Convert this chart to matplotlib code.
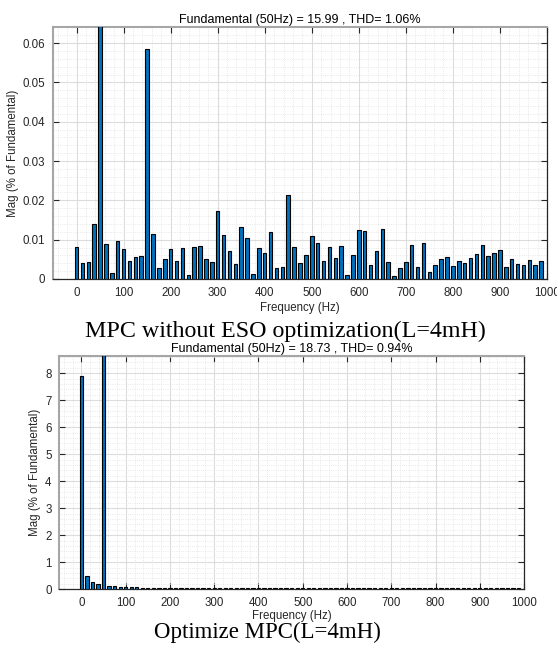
"""FFT harmonic spectra of the grid current, MPC vs optimised MPC
"""
import numpy as np
import matplotlib
matplotlib.use('Agg')
import matplotlib.pyplot as plt
from matplotlib.ticker import MultipleLocator

# harmonic bins, 12.5 Hz resolution (index 4 = 50 Hz fundamental)
freqStep = 12.5
fundamental = 100.0   # % of fundamental, clipped by the axis limits

magMpc = [0.0082, 0.0040, 0.0042, 0.0140, fundamental, 0.0090, 0.0014, 0.0097,
          0.0076, 0.0046, 0.0055, 0.0058, 0.0584, 0.0114, 0.0027, 0.0051,
          0.0075, 0.0047, 0.0078, 0.0011, 0.0081, 0.0084, 0.0050, 0.0043,
          0.0173, 0.0112, 0.0070, 0.0038, 0.0131, 0.0105, 0.0013, 0.0079,
          0.0065, 0.0120, 0.0028, 0.0031, 0.0214, 0.0082, 0.0041, 0.0061,
          0.0109, 0.0091, 0.0046, 0.0082, 0.0053, 0.0084, 0.0010, 0.0061,
          0.0125, 0.0121, 0.0036, 0.0071, 0.0127, 0.0042, 0.0007, 0.0029,
          0.0043, 0.0086, 0.0031, 0.0091, 0.0019, 0.0035, 0.0052, 0.0057,
          0.0034, 0.0047, 0.0040, 0.0054, 0.0064, 0.0086, 0.0059, 0.0066,
          0.0073, 0.0030, 0.0051, 0.0038, 0.0036, 0.0048, 0.0036, 0.0045]

magOpt = [7.88, 0.50, 0.27, 0.18, fundamental, 0.12, 0.11, 0.10,
          0.08, 0.07, 0.07, 0.06, 0.06, 0.05, 0.05, 0.04,
          0.04, 0.04, 0.04, 0.04, 0.04, 0.04, 0.03, 0.04,
          0.03, 0.03, 0.03, 0.03, 0.03, 0.03, 0.03, 0.03,
          0.03, 0.03, 0.03, 0.03, 0.03, 0.03, 0.03, 0.03,
          0.03, 0.03, 0.03, 0.03, 0.03, 0.03, 0.03, 0.03,
          0.03, 0.03, 0.03, 0.03, 0.03, 0.03, 0.03, 0.03,
          0.03, 0.03, 0.03, 0.03, 0.03, 0.03, 0.03, 0.03,
          0.03, 0.03, 0.03, 0.03, 0.03, 0.03, 0.03, 0.03,
          0.03, 0.03, 0.03, 0.03, 0.03, 0.03, 0.03, 0.03]

titleMpc = 'Fundamental (50Hz) = 15.99 , THD= 1.06%'
titleOpt = 'Fundamental (50Hz) = 18.73 , THD= 0.94%'
captionMpc = 'MPC without ESO optimization(L=4mH)'
captionOpt = 'Optimize MPC(L=4mH)'

plt.rcParams['font.family'] = ['Liberation Sans', 'DejaVu Sans']
txtColor = '#262626'


def spectrum(ax, mags, title, ymax, ymajor, xlabelpad):
  freqs = np.arange(len(mags)) * freqStep
  ax.bar(freqs, mags, width=7.5, color='#0072BD', edgecolor='black',
         linewidth=0.8, zorder=3)
  ax.set_xlim(-50, 1000)
  ax.set_ylim(0, ymax)
  ax.xaxis.set_major_locator(MultipleLocator(100))
  ax.xaxis.set_minor_locator(MultipleLocator(20))
  ax.yaxis.set_major_locator(MultipleLocator(ymajor))
  ax.yaxis.set_minor_locator(MultipleLocator(ymajor / 5))
  ax.grid(which='major', color='#dcdcdc', linewidth=0.8, zorder=0)
  ax.grid(which='minor', color='#e2e2e2', linewidth=0.6, linestyle=':', zorder=0)
  ax.set_axisbelow(True)
  ax.tick_params(which='major', direction='in', length=4, width=0.8, pad=5.5,
                 top=True, right=True, labelsize=8.3, colors=txtColor)
  ax.tick_params(which='minor', length=0)
  for side in ('top', 'left'):
    ax.spines[side].set_color('#a6a6a6')
    ax.spines[side].set_linewidth(1.5)
  for side in ('bottom', 'right'):
    ax.spines[side].set_color(txtColor)
    ax.spines[side].set_linewidth(0.9)
  ax.set_xlabel('Frequency (Hz)', fontsize=8.3, color=txtColor, labelpad=xlabelpad)
  ax.set_ylabel('Mag (% of Fundamental)', fontsize=8.3, color=txtColor, labelpad=3)
  ax.set_title(title, fontsize=9, color='black', pad=3)


fig = plt.figure(figsize=(5.57, 6.5), dpi=100)
ax1 = fig.add_axes([0.0952, 0.5708, 0.8868, 0.3877])
spectrum(ax1, magMpc, titleMpc, 0.0641, 0.01, 2.5)
ax1.yaxis.set_major_formatter(plt.FuncFormatter(lambda v, p: '0' if v == 0 else '%.2f' % v))

ax2 = fig.add_axes([0.1065, 0.0934, 0.8343, 0.3594])
spectrum(ax2, magOpt, titleOpt, 8.65, 1, 1.0)

fig.text(0.512, 0.490, captionMpc, ha='center', va='center',
         family='Liberation Serif', fontsize=17.3)
fig.text(0.481, 0.027, captionOpt, ha='center', va='center',
         family='Liberation Serif', fontsize=16.5)

fig.savefig('out.png', dpi=100)
